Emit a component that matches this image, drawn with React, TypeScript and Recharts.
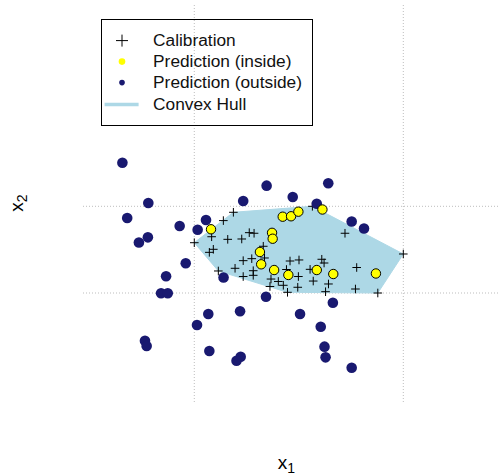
import React from "react";
import {
  ScatterChart,
  Scatter,
  XAxis,
  YAxis,
  ReferenceLine,
} from "recharts";

// calibration samples (x1, x2), scaled so the grid lines sit at 0 and 1
const CAL_X1 = [0, 0.187, 0.139, 0.083, 0.091, 0.072, 0.16, 0.227, 0.263, 0.286, 0.115, 0.195, 0.234, 0.275, 0.234, 0.282, 0.282, 0.33, 0.336, 0.367, 0.402, 0.362, 0.426, 0.446, 0.458, 0.501, 0.441, 0.498, 0.495, 0.554, 0.569, 0.61, 0.621, 0.642, 0.628, 0.721, 0.777, 0.771, 0.878, 1, 0.565];
const CAL_X2 = [0.58, 0.931, 0.835, 0.649, 0.504, 0.469, 0.619, 0.623, 0.696, 0.689, 0.254, 0.285, 0.373, 0.396, 0.19, 0.257, 0.204, 0.539, 0.404, 0.161, 0.133, 0.075, 0.089, 0.008, 0.369, 0.381, 0.271, 0.19, 0.066, 0.273, 0.138, 0.389, 0.346, 0.104, 0.015, 0.689, 0.294, 0.046, 0, 0.45, 1];

// prediction samples inside the hull
const IN_X1 = [0.08, 0.423, 0.463, 0.498, 0.613, 0.372, 0.375, 0.314, 0.32, 0.382, 0.45, 0.586, 0.665, 0.869];
const IN_X2 = [0.735, 0.88, 0.885, 0.938, 0.963, 0.694, 0.626, 0.473, 0.331, 0.265, 0.208, 0.265, 0.219, 0.225];

// prediction samples outside the hull
const OUT_X1 = [-0.344, 0.346, 0.641, 0.471, 0.234, -0.22, 0.586, 0.056, -0.321, -0.07, 0.016, -0.222, -0.265, 0.753, 0.812, -0.041, 0.14, -0.135, -0.159, -0.127, 0.343, 0.663, 0.067, 0.219, 0.506, 0.013, 0.605, -0.236, -0.228, 0.072, 0.623, 0.628, 0.222, 0.202, 0.753];
const OUT_X2 = [1.503, 1.238, 1.265, 1.107, 1.061, 1.038, 1.03, 0.842, 0.865, 0.773, 0.73, 0.642, 0.582, 0.825, 0.744, 0.343, 0.179, 0.194, -0.003, -0.003, -0.043, -0.112, -0.242, -0.211, -0.242, -0.369, -0.389, -0.55, -0.611, -0.669, -0.619, -0.742, -0.735, -0.782, -0.862];

const GRID_X1 = [0, 1];
const GRID_X2 = [0, 1];

const LEGEND_LABELS = ["Calibration", "Prediction (inside)", "Prediction (outside)", "Convex Hull"];

const HULL = "#add8e6";
const NAVY = "#191970";
const YELLOW = "#ffff00";
const GRID = "#bdbdbd";
const FONT = "'Liberation Sans', Arial, sans-serif";

type Pt = { x: number; y: number };

const zip = (xs: number[], ys: number[]): Pt[] => xs.map((x, i) => ({ x, y: ys[i] }));

const calibration = zip(CAL_X1, CAL_X2);
const inside = zip(IN_X1, IN_X2);
const outside = zip(OUT_X1, OUT_X2);

// monotone chain hull of the calibration set, closed for drawing
function convexHull(pts: Pt[]): Pt[] {
  const p = [...pts].sort((a, b) => a.x - b.x || a.y - b.y);
  const cross = (o: Pt, a: Pt, b: Pt) => (a.x - o.x) * (b.y - o.y) - (a.y - o.y) * (b.x - o.x);
  const lower: Pt[] = [];
  for (const q of p) {
    while (lower.length >= 2 && cross(lower[lower.length - 2], lower[lower.length - 1], q) <= 0) lower.pop();
    lower.push(q);
  }
  const upper: Pt[] = [];
  for (const q of p.reverse()) {
    while (upper.length >= 2 && cross(upper[upper.length - 2], upper[upper.length - 1], q) <= 0) upper.pop();
    upper.push(q);
  }
  upper.pop();
  lower.pop();
  const hull = lower.concat(upper);
  return [...hull, hull[0]];
}

const hull = convexHull(calibration);

function renderPlus(props: any) {
  const { cx, cy } = props;
  if (cx == null || cy == null) return <g />;
  const r = 4.3;
  return <path d={`M${cx - r},${cy}H${cx + r}M${cx},${cy - r}V${cy + r}`} stroke="#000" strokeWidth={1} fill="none" />;
}

function renderInside(props: any) {
  const { cx, cy } = props;
  if (cx == null || cy == null) return <g />;
  return <circle cx={cx} cy={cy} r={4.7} fill={YELLOW} stroke="#000" strokeWidth={1} />;
}

function renderOutside(props: any) {
  const { cx, cy } = props;
  if (cx == null || cy == null) return <g />;
  return <circle cx={cx} cy={cy} r={5.3} fill={NAVY} />;
}

const renderNothing = () => <g />;

function XLabel(props: any) {
  const vb = props.viewBox ?? { x: 83, y: 402, width: 415, height: 74 };
  return (
    <text x={vb.x + vb.width / 2 - 4} y={vb.y + 67} textAnchor="middle" fontFamily={FONT} fontSize={19} fill="#000">
      x<tspan fontSize={14} dy={4}>1</tspan>
    </text>
  );
}

function YLabel(props: any) {
  const vb = props.viewBox ?? { x: 0, y: 5, width: 83, height: 397 };
  const x = vb.x + 23.3;
  const y = vb.y + vb.height / 2 - 0.5;
  return (
    <text x={x} y={y} transform={`rotate(-90, ${x}, ${y})`} textAnchor="middle" fontFamily={FONT} fontSize={19} fill="#000">
      x<tspan fontSize={14} dy={4}>2</tspan>
    </text>
  );
}

function LegendSymbol({ i }: { i: number }) {
  const cy = 10.6;
  let mark: React.ReactNode = null;
  if (i === 0) mark = <path d={`M15,${cy}H27M21,${cy - 6}V${cy + 6}`} stroke="#000" strokeWidth={1} />;
  if (i === 1) mark = <circle cx={21} cy={cy} r={3.3} fill={YELLOW} />;
  if (i === 2) mark = <circle cx={21} cy={cy} r={2.8} fill={NAVY} />;
  if (i === 3) mark = <line x1={3.6} x2={37.6} y1={cy} y2={cy} stroke={HULL} strokeWidth={3.5} />;
  return (
    <svg width={52.6} height={21.2} style={{ flex: "none", display: "block" }}>
      {mark}
    </svg>
  );
}

function ChartLegend() {
  return (
    <div
      style={{
        position: "absolute",
        left: 100.5,
        top: 19,
        width: 212,
        height: 107,
        boxSizing: "border-box",
        border: "1px solid #000",
        paddingTop: 10,
        fontFamily: FONT,
        fontSize: 17.3,
        color: "#111",
        pointerEvents: "none",
      }}
    >
      {LEGEND_LABELS.map((label, i) => (
        <div key={label} style={{ display: "flex", alignItems: "center", height: 21.2, marginLeft: -1 }}>
          <LegendSymbol i={i} />
          <span style={{ whiteSpace: "nowrap", lineHeight: "21.2px" }}>{label}</span>
        </div>
      ))}
    </div>
  );
}

export default function App() {
  return (
    <div style={{ position: "absolute", left: 0, top: 0, width: 498, height: 476, background: "#fff" }}>
      <ScatterChart width={498} height={476} margin={{ top: 5, right: 0, bottom: 0, left: 0 }}>
        <XAxis
          type="number"
          dataKey="x"
          domain={[-0.5325, 1.4531]}
          allowDataOverflow
          height={74}
          tick={false}
          tickLine={false}
          axisLine={false}
          label={<XLabel />}
        />
        <YAxis
          type="number"
          dataKey="y"
          domain={[-1.2572, 3.3218]}
          allowDataOverflow
          width={83}
          tick={false}
          tickLine={false}
          axisLine={false}
          label={<YLabel />}
        />
        <Scatter
          data={hull}
          line={{ fill: HULL, stroke: HULL, strokeWidth: 1 }}
          lineJointType="linear"
          shape={renderNothing}
          isAnimationActive={false}
        />
        {GRID_X1.map((v) => (
          <ReferenceLine key={`gx${v}`} x={v} stroke={GRID} strokeDasharray="1 2" />
        ))}
        {GRID_X2.map((v) => (
          <ReferenceLine key={`gy${v}`} y={v} stroke={GRID} strokeDasharray="1 2" />
        ))}
        <Scatter data={calibration} shape={renderPlus} isAnimationActive={false} />
        <Scatter data={outside} shape={renderOutside} isAnimationActive={false} />
        <Scatter data={inside} shape={renderInside} isAnimationActive={false} />
      </ScatterChart>
      <ChartLegend />
    </div>
  );
}
